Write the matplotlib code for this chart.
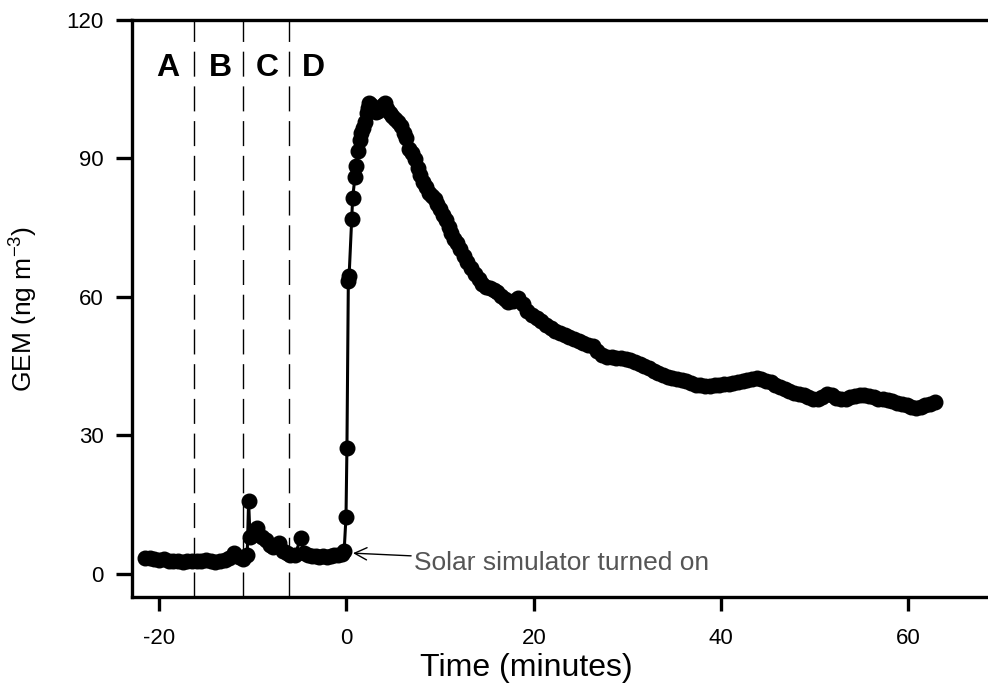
import matplotlib
matplotlib.use("Agg")
import matplotlib.pyplot as plt
import numpy as np

# Baseline before lamp (sections A and B), minutes / ng m-3
base_time = [-21.5, -21.0, -20.5, -20.0, -19.5, -19.0, -18.5, -18.0, -17.5, -17.0,
             -16.5, -16.0, -15.5, -15.0, -14.5, -14.0, -13.5, -13.0, -12.5, -12.0,
             -11.5, -11.0, -10.6]
base_gem = [3.4, 3.5, 3.3, 3.1, 3.2, 2.9, 2.7, 2.8, 2.6, 2.7,
            2.8, 2.9, 2.8, 3.0, 2.7, 2.6, 2.7, 3.0, 3.5, 4.6,
            3.6, 3.2, 4.2]

# Sections C and D
spike_time = [-10.45, -10.3, -10.0, -9.5, -9.0, -8.6, -8.2, -7.8, -7.2, -6.8,
              -6.4, -6.0, -5.5, -4.9, -4.5, -4.1, -3.7, -3.3, -2.9, -2.5,
              -2.1, -1.7, -1.3, -0.9, -0.5, -0.25]
spike_gem = [15.8, 8.1, 8.4, 9.9, 8.0, 7.4, 6.3, 5.8, 6.6, 4.9,
             4.5, 4.1, 4.0, 7.7, 4.6, 4.0, 3.8, 3.9, 3.7, 3.8,
             3.7, 3.9, 4.0, 4.1, 4.3, 4.9]

# Solar simulator on: rise and peak
rise_time = [-0.05, 0.05, 0.2, 0.28, 0.55, 0.66, 0.9, 1.0, 1.25, 1.43,
             1.6, 1.78, 1.96, 2.14, 2.3, 2.42, 2.6, 2.8, 3.0, 3.2,
             3.4, 3.6, 3.85, 4.1, 4.35, 4.6, 4.9, 5.2, 5.5, 5.8,
             6.1, 6.4, 6.7, 7.0, 7.3, 7.6, 7.9, 8.2, 8.5, 8.8,
             9.1, 9.4, 9.7, 10.0, 10.3, 10.6, 10.9, 11.2, 11.5, 11.8]
rise_gem = [12.4, 27.3, 63.5, 64.5, 76.8, 81.4, 85.9, 88.4, 91.7, 94.0,
            95.5, 96.5, 98.0, 99.8, 101.0, 102.1, 101.5, 100.6, 100.3, 100.0,
            100.2, 100.8, 101.5, 102.0, 100.8, 99.8, 99.2, 98.6, 97.8, 97.0,
            95.5, 94.5, 92.0, 91.2, 89.8, 88.0, 86.5, 85.0, 83.8, 82.6,
            81.8, 81.2, 80.2, 79.0, 77.8, 76.6, 75.2, 73.8, 72.6, 71.6]

# Slow decay
decay_time = [12.1, 12.5, 12.9, 13.3, 13.7, 14.1, 14.5, 14.9, 15.3, 15.7,
              16.1, 16.5, 16.9, 17.3, 17.8, 18.3, 18.8, 19.3, 19.8, 20.3,
              20.8, 21.3, 21.8, 22.3, 22.8, 23.3, 23.8, 24.3, 24.8, 25.3,
              25.8, 26.3, 26.8, 27.3, 27.8, 28.3, 28.8, 29.3, 29.8, 30.3,
              30.8, 31.3, 31.8, 32.3, 32.8, 33.3, 33.8, 34.3, 34.8, 35.3,
              35.8, 36.3, 36.8, 37.3, 37.8, 38.3, 38.8, 39.3, 39.8, 40.3,
              40.8, 41.3, 41.8, 42.3, 42.8, 43.3, 43.8, 44.3, 44.8, 45.3,
              45.8, 46.3, 46.8, 47.3, 47.8, 48.3, 48.8, 49.3, 49.8, 50.3,
              50.8, 51.3, 51.8, 52.3, 52.8, 53.3, 53.8, 54.3, 54.8, 55.3,
              55.8, 56.3, 56.8, 57.3, 57.8, 58.3, 58.8, 59.3, 59.8, 60.3,
              60.8, 61.3, 61.8, 62.3, 62.8]
decay_gem = [70.4, 68.9, 67.6, 66.3, 65.0, 63.9, 62.8, 62.2, 61.9, 61.6,
             61.0, 60.2, 59.6, 59.0, 59.2, 59.8, 58.4, 57.0, 56.2, 55.4,
             54.8, 54.0, 53.2, 52.6, 52.1, 51.7, 51.3, 50.9, 50.5, 50.1,
             49.7, 49.3, 48.4, 47.4, 47.1, 46.9, 46.7, 46.8, 46.6, 46.3,
             45.9, 45.5, 45.0, 44.6, 44.0, 43.6, 43.1, 42.7, 42.5, 42.3,
             42.1, 41.8, 41.4, 41.0, 40.9, 40.8, 40.7, 40.9, 41.0, 41.1,
             41.2, 41.4, 41.5, 41.7, 42.0, 42.3, 42.5, 42.3, 41.9, 41.6,
             41.0, 40.5, 40.0, 39.6, 39.2, 39.0, 38.8, 38.4, 37.9, 37.8,
             38.4, 39.0, 38.7, 38.1, 37.8, 38.0, 38.3, 38.5, 38.7, 38.8,
             38.6, 38.3, 38.0, 37.9, 37.7, 37.4, 37.1, 36.8, 36.5, 36.2,
             35.9, 36.1, 36.5, 36.9, 37.3]

section_bounds = [-16.3, -11.1, -6.1]
section_labels = ["A", "B", "C", "D"]
section_label_x = [-19.1, -13.5, -8.5, -3.5]

x_ticks = [-20, 0, 20, 40, 60]
y_ticks = [0, 30, 60, 90, 120]


def main():
    plt.rcParams["font.family"] = ["Liberation Sans", "DejaVu Sans"]
    plt.rcParams["mathtext.fontset"] = "custom"
    plt.rcParams["mathtext.rm"] = "Liberation Sans"
    plt.rcParams["mathtext.it"] = "Liberation Sans:italic"
    plt.rcParams["axes.unicode_minus"] = False

    time = np.concatenate([base_time, spike_time, rise_time, decay_time])
    gem = np.concatenate([base_gem, spike_gem, rise_gem, decay_gem])

    fig = plt.figure(figsize=(9.88, 7), dpi=100)
    ax = fig.add_axes([132 / 988, 1 - 597 / 700, 856 / 988, 577 / 700])

    ax.plot(time, gem, color="black", linewidth=2.2, marker="o",
            markersize=10.5, markerfacecolor="black", markeredgecolor="black",
            clip_on=False, zorder=3)

    for xb in section_bounds:
        ax.axvline(xb, color="black", linewidth=1, linestyle=(0, (18, 7)))

    for lab, xl in zip(section_labels, section_label_x):
        ax.text(xl, 109.5, lab, ha="center", va="center",
                fontsize=23, fontweight="bold")

    ax.annotate("Solar simulator turned on", xy=(0.7, 4.5), xytext=(7.2, 2.4),
                ha="left", va="center", fontsize=19, color="#555555",
                arrowprops=dict(arrowstyle="->", color="black", lw=1,
                                mutation_scale=22, shrinkA=0, shrinkB=0))

    ax.set_xlim(-22.9, 68.5)
    ax.set_ylim(-5, 120)
    ax.set_xticks(x_ticks)
    ax.set_yticks(y_ticks)

    ax.spines["right"].set_visible(False)
    for side in ["left", "top", "bottom"]:
        ax.spines[side].set_linewidth(2.4)
    ax.tick_params(axis="y", direction="out", length=11.5, width=2.4,
                   labelsize=16, pad=9)
    ax.tick_params(axis="x", direction="out", length=10, width=2.4,
                   labelsize=16, pad=12)

    ax.set_xlabel("Time (minutes)", fontsize=23)
    ax.xaxis.set_label_coords(0.461, -0.097)
    ax.set_ylabel("GEM (ng m$^{-3}$)", fontsize=19)
    ax.yaxis.set_label_coords(-0.108, 0.5)

    fig.savefig("out.png", dpi=100)
    plt.close(fig)


if __name__ == "__main__":
    main()
